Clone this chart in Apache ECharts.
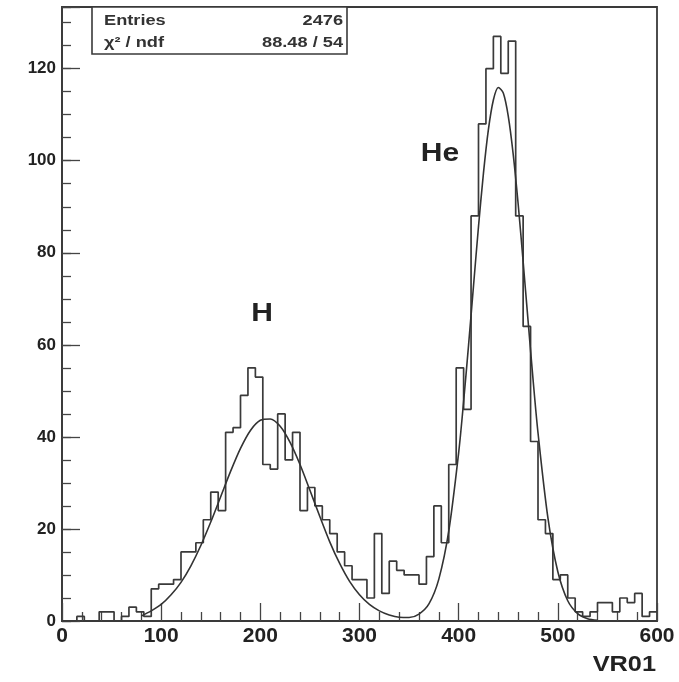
<!DOCTYPE html>
<html>
<head>
<meta charset="utf-8">
<script src="https://cdn.jsdelivr.net/npm/echarts@6/dist/echarts.min.js"></script>
<style>
html,body{margin:0;padding:0;background:#fff;}
#c{width:679px;height:682px;}
</style>
</head>
<body>
<div id="c"></div>
<script>
// Histogram: 80 bins of width 7.5 from 0 to 600
const binWidth = 7.5;
const counts = [0,0,1,0,0,2,2,0,1,3, 2,1,7,8,8,9,15,15,17,22,
  28,24,41,42,49,55,53,34,33,45, 35,41,24,29,25,22,19,15,12,9,
  9,5,19,6,13,11,10,10,8,14, 25,17,34,55,46,88,108,120,127,119,
  126,88,64,39,22,19,9,10,5,2, 1,2,4,4,2,5,4,6,1,2];
// Fit curve
const fitX = [80,90,100,110,120,130,140,150,160,170,180,190,200,210,220,230,240,250,260,270,280,290,300,310,320,330,340,350,360,370,380,390,400,405,410,415,420,425,430,435,440,445,450,455,460,465,470,475,480,490,500,510,520,530,540];
const fitY = [1.1,2.2,3.6,5.7,8.4,12.0,16.4,21.5,27.0,32.5,37.5,41.4,43.6,43.9,42.3,38.8,34.0,28.4,22.7,17.2,12.5,8.6,5.7,3.6,2.2,1.3,0.8,0.75,1.5,3.7,9.1,19.5,36.6,47.7,60.0,72.9,85.7,97.3,106.8,113.2,115.9,114.7,109.7,101.4,90.6,78.1,65.2,52.5,40.9,22.4,10.7,4.4,1.6,0.5,0.14];
const statsLabels = ['Entries', 'χ² / ndf'];
const statsValues = ['2476', '88.48 / 54'];
const xTitle = 'VR01';
const peakLabels = ['H', 'He'];

const histData = counts.map((c, i) => [i * binWidth, c]);
histData.push([counts.length * binWidth, counts[counts.length - 1]]);
const fitData = fitX.map((x, i) => [x, fitY[i]]);

const FONT = 'Liberation Sans, Arial, Helvetica, sans-serif';
const chart = echarts.init(document.getElementById('c'), null, {renderer: 'canvas'});
chart.setOption({
  animation: false,
  backgroundColor: '#fff',
  grid: {left: 62, right: 22, top: 7, bottom: 61, show: true, borderColor: '#3a3a3a', borderWidth: 1.8, backgroundColor: 'transparent'},
  xAxis: {
    type: 'value', min: 0, max: 600, interval: 100,
    axisLine: {show: true, lineStyle: {color: '#3a3a3a', width: 1.8}},
    axisTick: {show: true, inside: true, length: 18, lineStyle: {color: '#444', width: 1.3}},
    minorTick: {show: true, splitNumber: 5, length: 9, lineStyle: {color: '#444', width: 1.3}},
    axisLabel: {fontSize: 21, fontWeight: 'bold', color: '#222', fontFamily: FONT, margin: 5},
    splitLine: {show: false}, minorSplitLine: {show: false}
  },
  yAxis: [{
    type: 'value', min: 0, max: 133.4, interval: 20,
    axisLine: {show: true, lineStyle: {color: '#3a3a3a', width: 1.8}},
    axisTick: {show: true, inside: true, length: 18, lineStyle: {color: '#444', width: 1.3}},
    axisLabel: {fontSize: 17, fontWeight: 'bold', color: '#222', fontFamily: FONT, margin: 6,
      formatter: v => (Math.abs(v % 20) < 1e-6 ? String(v) : '')},
    splitLine: {show: false}
  }, {
    type: 'value', min: 0, max: 133.4, interval: 5, position: 'left',
    axisLine: {show: false},
    axisTick: {show: true, inside: true, length: 9, lineStyle: {color: '#444', width: 1.3}},
    axisLabel: {show: false},
    splitLine: {show: false}
  }],
  series: [{
    type: 'line', step: 'end', data: histData, symbol: 'none',
    lineStyle: {color: '#3a3a3a', width: 1.7}, z: 3
  }, {
    type: 'line', data: fitData, symbol: 'none', smooth: 0.3,
    lineStyle: {color: '#333', width: 1.6}, z: 4
  }],
  graphic: [
    {type: 'rect', shape: {x: 92, y: 7, width: 255, height: 47}, style: {fill: '#fff', stroke: '#3a3a3a', lineWidth: 1.6}, z: 10},
    {type: 'text', x: 104, y: 21, scaleX: 1.3, style: {text: statsLabels[0], font: 'bold 14px ' + FONT, fill: '#333', textVerticalAlign: 'middle'}, z: 11},
    {type: 'text', x: 343, y: 21, scaleX: 1.3, style: {text: statsValues[0], font: 'bold 14px ' + FONT, fill: '#333', textAlign: 'right', textVerticalAlign: 'middle'}, z: 11},
    {type: 'text', x: 104, y: 43, scaleX: 1.3, style: {text: statsLabels[1], font: 'bold 14px ' + FONT, fill: '#333', textVerticalAlign: 'middle'}, z: 11},
    {type: 'text', x: 343, y: 43, scaleX: 1.3, style: {text: statsValues[1], font: 'bold 14px ' + FONT, fill: '#333', textAlign: 'right', textVerticalAlign: 'middle'}, z: 11},
    {type: 'text', x: 656, y: 665, scaleX: 1.15, style: {text: xTitle, font: 'bold 22px ' + FONT, fill: '#222', textAlign: 'right', textVerticalAlign: 'middle'}},
    {type: 'text', x: 262, y: 314, scaleX: 1.2, style: {text: peakLabels[0], font: 'bold 25px ' + FONT, fill: '#222', textAlign: 'center', textVerticalAlign: 'middle'}},
    {type: 'text', x: 440, y: 154, scaleX: 1.2, style: {text: peakLabels[1], font: 'bold 25px ' + FONT, fill: '#222', textAlign: 'center', textVerticalAlign: 'middle'}}
  ]
});
</script>
</body>
</html>
